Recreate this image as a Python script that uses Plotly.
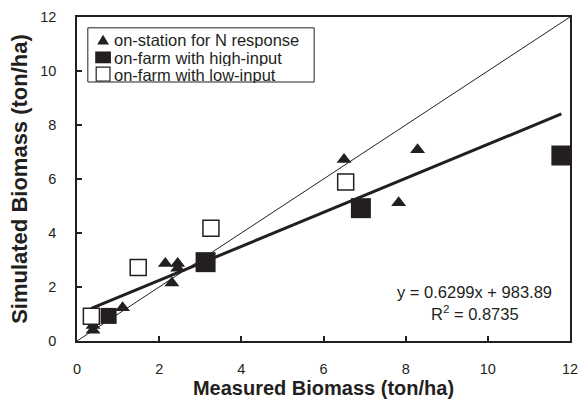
import plotly.graph_objects as go

# Measured vs simulated biomass (ton/ha)
station_measured = [0.39, 0.39, 1.11, 2.15, 2.45, 2.45, 2.31, 6.50, 8.29, 7.83]
station_simulated = [0.57, 0.40, 1.23, 2.87, 2.87, 2.69, 2.15, 6.72, 7.08, 5.12]

high_measured = [0.77, 3.13, 6.91, 11.79]
high_simulated = [0.93, 2.92, 4.92, 6.87]

low_measured = [0.35, 1.49, 3.26, 6.54]
low_simulated = [0.92, 2.72, 4.18, 5.89]

series_names = ["on-station for N response", "on-farm with high-input", "on-farm with low-input"]

# Regression (kg/ha): y = 0.6299x + 983.89
slope = 0.6299
intercept_kg = 983.89
r_squared = 0.8735

axis_range = [0, 12]
tick_vals = [0, 2, 4, 6, 8, 10, 12]

INK = "#231f20"
FONT = "Liberation Sans, Arial, Helvetica, sans-serif"

W, H = 587, 404
M = dict(l=77, r=9, t=14, b=61)
PW = W - M["l"] - M["r"]
PH = H - M["t"] - M["b"]


def px(x):
    """Page x pixel -> paper fraction."""
    return (x - M["l"]) / PW


def py(y):
    """Page y pixel -> paper fraction."""
    return (H - M["b"] - y) / PH


all_x = station_measured + high_measured + low_measured
fit_x = [min(all_x), max(all_x)]
fit_y = [slope * x + intercept_kg / 1000 for x in fit_x]

fig = go.Figure()

# 1:1 line
fig.add_trace(go.Scatter(x=axis_range, y=axis_range, mode="lines",
                         line=dict(color=INK, width=1), showlegend=False,
                         hoverinfo="skip"))
# regression line
fig.add_trace(go.Scatter(x=fit_x, y=fit_y, mode="lines",
                         line=dict(color=INK, width=3), showlegend=False,
                         hoverinfo="skip"))

fig.add_trace(go.Scatter(x=station_measured, y=station_simulated, mode="markers",
                         name=series_names[0], showlegend=False,
                         marker=dict(symbol="triangle-up", size=13, color=INK,
                                     opacity=1, line=dict(width=0))))
fig.add_trace(go.Scatter(x=high_measured, y=high_simulated, mode="markers",
                         name=series_names[1], showlegend=False,
                         marker=dict(symbol="square", size=[16, 20, 20, 20], color=INK,
                                     opacity=1, line=dict(width=0))))
fig.add_trace(go.Scatter(x=low_measured, y=low_simulated, mode="markers",
                         name=series_names[2], showlegend=False,
                         marker=dict(symbol="square", size=16, color="white",
                                     opacity=1, line=dict(color=INK, width=1.5))))

# ---- legend box (laid out in page pixels, converted to paper units) ----
shapes = [dict(type="rect", xref="paper", yref="paper",
               x0=px(88), x1=px(318), y0=py(80), y1=py(25),
               line=dict(color=INK, width=1), fillcolor="white", layer="above")]
row_y = [37, 55, 72]
sym_x = 103.5
# triangle
tx0, tx1, tyt, tyb = sym_x - 6, sym_x + 6, row_y[0] - 5, row_y[0] + 5
shapes.append(dict(type="path", xref="paper", yref="paper",
                   path=f"M {px(tx0)} {py(tyb)} L {px(tx1)} {py(tyb)} L {px(sym_x)} {py(tyt)} Z",
                   fillcolor=INK, line=dict(width=0), layer="above"))
# filled square
shapes.append(dict(type="rect", xref="paper", yref="paper",
                   x0=px(sym_x - 8), x1=px(sym_x + 8), y0=py(row_y[1] + 6), y1=py(row_y[1] - 6),
                   fillcolor=INK, line=dict(width=0), layer="above"))
# open square
shapes.append(dict(type="rect", xref="paper", yref="paper",
                   x0=px(sym_x - 7), x1=px(sym_x + 7), y0=py(row_y[2] + 7), y1=py(row_y[2] - 7),
                   fillcolor="white", line=dict(color=INK, width=1.2), layer="above"))

annotations = []
for name, ry in zip(series_names, row_y):
    annotations.append(dict(x=px(114), y=py(ry), xref="paper", yref="paper",
                            xanchor="left", yanchor="middle", showarrow=False,
                            height=17, borderpad=0,
                            text=name, font=dict(family=FONT, size=16.5, color=INK)))

# regression equation
annotations.append(dict(x=px(481), y=py(293), xref="paper", yref="paper",
                        xanchor="center", yanchor="middle", showarrow=False,
                        text=f"y = {slope}x + {intercept_kg}",
                        font=dict(family=FONT, size=16.5, color=INK)))
annotations.append(dict(x=px(481), y=py(315), xref="paper", yref="paper",
                        xanchor="center", yanchor="middle", showarrow=False,
                        text=f"R<sup>2</sup> = {r_squared}",
                        font=dict(family=FONT, size=16.5, color=INK)))

axis_common = dict(range=axis_range, tickvals=tick_vals, ticks="inside", ticklen=5,
                   tickwidth=1.5, tickcolor=INK, showline=True, linecolor=INK,
                   linewidth=1.5, mirror=True, showgrid=False, zeroline=False,
                   tickfont=dict(family=FONT, size=14.5, color=INK))

fig.update_xaxes(**axis_common, ticklabelstandoff=14,
                 title=dict(text="<b>Measured Biomass (ton/ha)</b>", standoff=4,
                            font=dict(family=FONT, size=20, color=INK)))
fig.update_yaxes(**axis_common, ticklabelstandoff=16,
                 title=dict(text="<b>Simulated Biomass (ton/ha)</b>", standoff=7,
                            font=dict(family=FONT, size=22, color=INK)))

fig.update_layout(
    width=W, height=H, margin=M,
    paper_bgcolor="white", plot_bgcolor="white",
    showlegend=False, shapes=shapes, annotations=annotations,
)

fig.write_html("out.html")
